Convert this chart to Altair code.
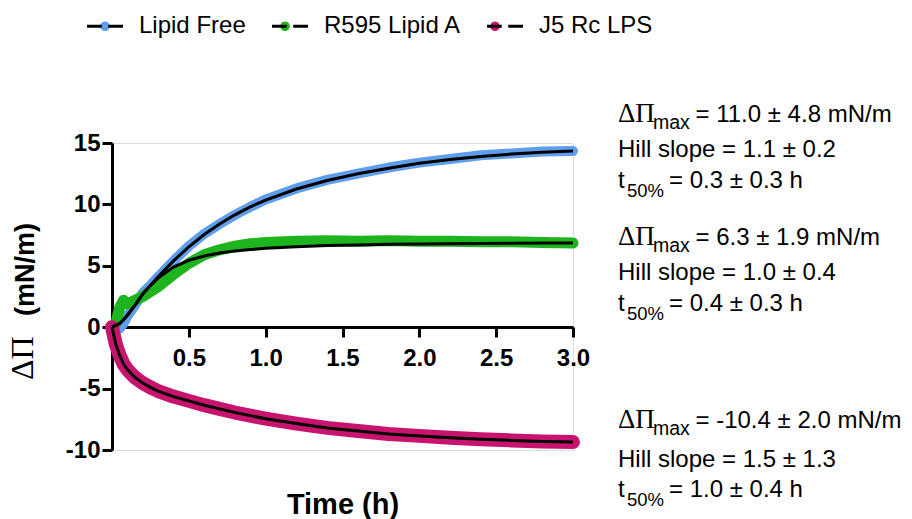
import altair as alt
import pandas as pd

# ---------------- data ----------------
series_names = ["Lipid Free", "R595 Lipid A", "J5 Rc LPS"]
series_colors = ["#5F9EEB", "#1EB41E", "#C8146E"]

time_h = [0, 0.025, 0.05, 0.075, 0.1, 0.15, 0.2, 0.25, 0.3, 0.4, 0.5, 0.6, 0.7,
          0.8, 0.9, 1.0, 1.2, 1.4, 1.6, 1.8, 2.0, 2.2, 2.4, 2.6, 2.8, 3.0]

# measured surface pressure change (mN/m)
lipid_free_obs = [0, -0.2, -0.1, 0.3, 0.9, 1.8, 2.8, 3.4, 4.1, 5.4, 6.6, 7.6, 8.4,
                  9.15, 9.8, 10.4, 11.3, 12.0, 12.5, 13.0, 13.4, 13.7, 14.0, 14.15, 14.3, 14.35]
r595_obs = [0, 0.3, 1.6, 2.2, 1.9, 2.2, 2.5, 2.9, 3.3, 4.3, 5.2, 5.9, 6.3,
            6.6, 6.8, 6.9, 7.0, 7.05, 7.0, 7.05, 7.0, 7.0, 6.95, 6.95, 6.9, 6.85]
j5_obs = [0, -1.4, -2.3, -3.0, -3.45, -4.1, -4.55, -4.9, -5.2, -5.65, -6.0, -6.35, -6.65,
          -6.95, -7.2, -7.45, -7.85, -8.2, -8.45, -8.7, -8.85, -9.0, -9.12, -9.22, -9.3, -9.35]

# Hill fits
lipid_free_fit = [0, 0.15, 0.3, 0.6, 1.0, 1.8, 2.7, 3.4, 4.1, 5.4, 6.55, 7.55, 8.4,
                  9.15, 9.8, 10.35, 11.25, 11.95, 12.5, 12.95, 13.35, 13.65, 13.9, 14.1, 14.25, 14.35]
r595_fit = [0, 0.15, 0.3, 0.6, 0.95, 1.8, 2.7, 3.4, 4.0, 4.9, 5.45, 5.8, 6.05,
            6.2, 6.32, 6.42, 6.55, 6.65, 6.7, 6.75, 6.78, 6.8, 6.82, 6.84, 6.85, 6.86]
j5_fit = [0, -1.4, -2.3, -3.0, -3.45, -4.1, -4.55, -4.9, -5.2, -5.65, -6.0, -6.35, -6.65,
          -6.95, -7.2, -7.45, -7.85, -8.2, -8.45, -8.7, -8.85, -9.0, -9.12, -9.22, -9.3, -9.35]

x_ticks = [0, 0.5, 1.0, 1.5, 2.0, 2.5, 3.0]
y_ticks = [-10, -5, 0, 5, 10, 15]

stats_dpi = ["= 11.0 ± 4.8 mN/m", "= 6.3 ± 1.9 mN/m", "= -10.4 ± 2.0 mN/m"]
stats_hill = ["Hill slope = 1.1 ± 0.2", "Hill slope = 1.0 ± 0.4", "Hill slope = 1.5 ± 1.3"]
stats_t50 = ["= 0.3 ± 0.3 h", "= 0.4 ± 0.3 h", "= 1.0 ± 0.4 h"]

# ---------------- tables ----------------
obs_series = [lipid_free_obs, r595_obs, j5_obs]
fit_series = [lipid_free_fit, r595_fit, j5_fit]
obs_rows, fit_rows = [], []
for name, ob, fi in zip(series_names, obs_series, fit_series):
    for t, a, b in zip(time_h, ob, fi):
        obs_rows.append({"series": name, "t": t, "v": a})
        fit_rows.append({"fit_key": name + " fit", "t": t, "v": b})
obs_df = pd.DataFrame(obs_rows)
fit_df = pd.DataFrame(fit_rows)
fit_keys = [n + " fit" for n in series_names]

SANS = "Liberation Sans"
SERIF = "Liberation Serif"

x_enc = alt.X("t:Q", scale=alt.Scale(domain=[0, 3], nice=False, zero=False),
              axis=alt.Axis(values=x_ticks, offset=-123, domainColor="black", domainWidth=3,
                            tickColor="black", tickWidth=3, tickSize=10,
                            labelFont=SANS, labelFontSize=24, labelFontWeight="bold",
                            labelColor="black", labelPadding=9, labelFlush=False,
                            labelOverlap=False, grid=False,
                            labelExpr="datum.value == 0 ? '' : format(datum.value, '.1f')",
                            title="Time (h)", titleFont=SANS, titleFontSize=29,
                            titleFontWeight="bold", titleColor="black",
                            titleX=230.5, titleY=186, titleBaseline="alphabetic"))
y_enc = alt.Y("v:Q", scale=alt.Scale(domain=[-10, 15], nice=False, zero=False),
              axis=alt.Axis(values=y_ticks, domainColor="black", domainWidth=3,
                            tickColor="black", tickWidth=3, tickSize=10,
                            labelFont=SANS, labelFontSize=24, labelFontWeight="bold",
                            labelColor="black", labelPadding=2, labelFlush=False,
                            labelOverlap=False, grid=False,
                            labelExpr="'' + datum.value", title=None))

LINE_SYM = "M-1,0H-0.18M0.18,0H1"
DOT_SYM = ("M0.167,0A0.167,0.167,0,1,1,-0.167,0A0.167,0.167,0,1,1,0.167,0"
           "M0.05,0A0.05,0.05,0,1,1,-0.05,0A0.05,0.05,0,1,1,0.05,0")
common_legend = dict(orient="none", legendX=-26.5, legendY=-136.5, direction="horizontal",
                     title=None, symbolSize=1296, symbolStrokeWidth=3, labelFont=SANS,
                     labelFontSize=24, labelColor="black", labelOffset=14.5,
                     columnPadding=19, padding=0, labelLimit=400)

color_scale = alt.Scale(domain=series_names, range=series_colors)
band_widths = [10, 11, 14]

layers = []
for i, (name, w) in enumerate(zip(series_names, band_widths)):
    layers.append(
        alt.Chart(obs_df).transform_filter(alt.datum.series == name)
        .mark_line(strokeWidth=w, strokeCap="round", strokeJoin="round")
        .encode(x=x_enc, y=y_enc, order="t:Q",
                color=alt.Color("series:N", scale=color_scale,
                                legend=alt.Legend(symbolType=DOT_SYM, labelOpacity=0,
                                                  **common_legend)))
    )

fit_layer = (
    alt.Chart(fit_df).mark_line(strokeWidth=3)
    .encode(x=x_enc, y=y_enc, order="t:Q",
            stroke=alt.Stroke("fit_key:N",
                              scale=alt.Scale(domain=fit_keys, range=["black"] * 3),
                              legend=alt.Legend(symbolType=LINE_SYM,
                                                labelExpr="replace(datum.label, ' fit', '')",
                                                **common_legend)))
)
layers.append(fit_layer)

dummy = pd.DataFrame({"k": [0]})


def txt(s, x, y, size=24, font=SANS, weight="normal", angle=0, align="left"):
    return alt.Chart(dummy).mark_text(
        text=s, font=font, fontSize=size, fontWeight=weight, color="black",
        align=align, baseline="alphabetic", angle=angle
    ).encode(x=alt.value(x), y=alt.value(y))


# y axis title (ΔΠ in serif like the original)
layers.append(txt("ΔΠ", -79, 237, size=32, font=SERIF, angle=270, align="left"))
layers.append(txt("(mN/m)", -78, 80, size=27, weight="bold", angle=270, align="right"))

# fit statistics
block_baselines = [(-21, 14, 45), (102, 137, 168), (285, 324, 354)]
AX = 506
for k, (b1, b2, b3) in enumerate(block_baselines):
    layers.append(txt("ΔΠ", AX, b1, size=27, font=SERIF))
    layers.append(txt("max", AX + 35, b1 + 7, size=19.5))
    layers.append(txt(stats_dpi[k], AX + 77.5, b1))
    layers.append(txt(stats_hill[k], AX, b2))
    layers.append(txt("t", AX, b3))
    layers.append(txt("50%", AX + 9, b3 + 9, size=18.5))
    layers.append(txt(stats_t50[k], AX + 51, b3))

chart = (
    alt.layer(*layers)
    .resolve_scale(color="independent", stroke="independent")
    .properties(width=461, height=307,
                autosize=alt.AutoSizeParams(type="none"),
                padding={"left": 112, "top": 143, "right": 339, "bottom": 69},
                background="white")
    .configure_view(stroke=None)
    .configure(font=SANS)
)

chart.save("out.html", embed_options={"renderer": "svg", "actions": False})
